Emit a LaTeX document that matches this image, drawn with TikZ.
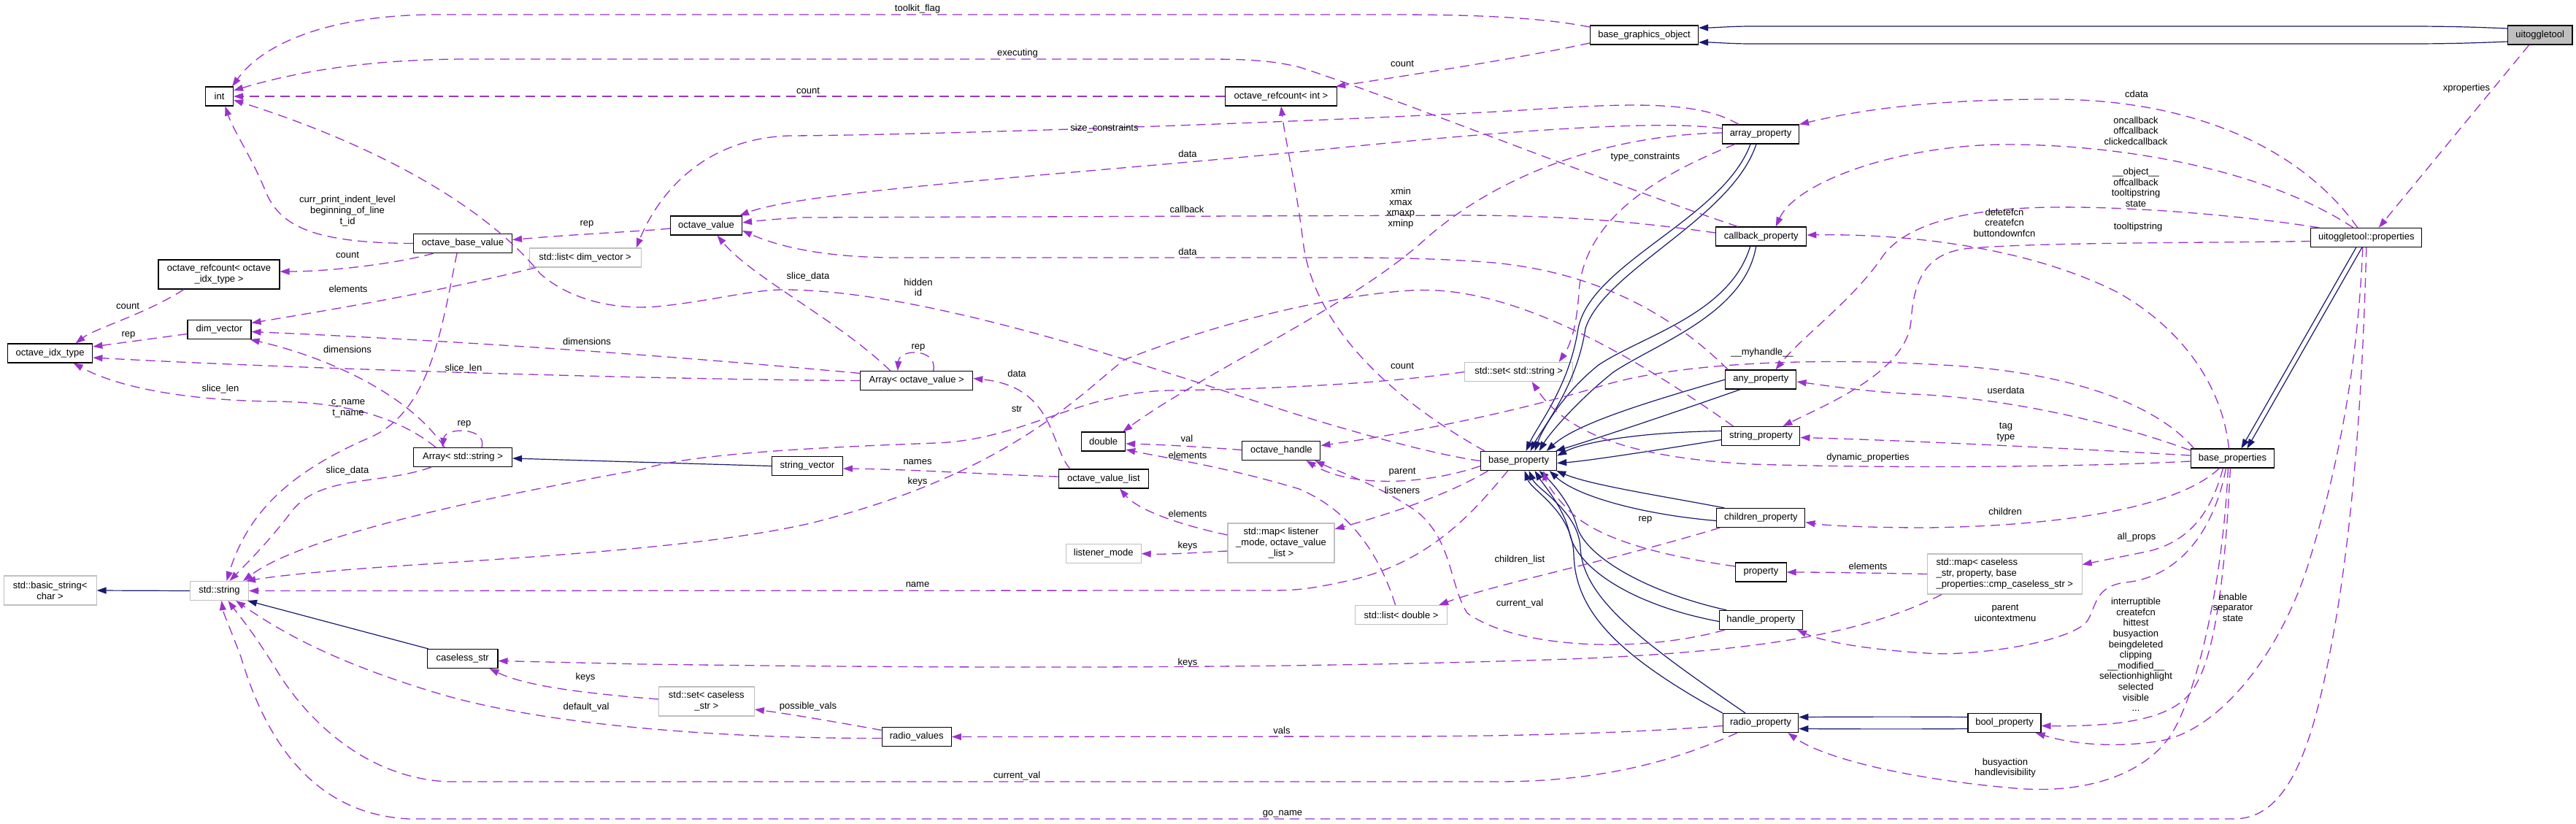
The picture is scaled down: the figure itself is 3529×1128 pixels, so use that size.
\documentclass[tikz,border=0pt]{standalone}
\usepackage{fontspec}
\setmainfont{Liberation Sans}
\usetikzlibrary{arrows.meta}
\definecolor{depc}{HTML}{9A32CD}
\definecolor{inhc}{HTML}{191970}
\definecolor{grayb}{HTML}{BFBFBF}
\newcommand{\dxf}{\fontsize{13pt}{15pt}\selectfont}
\newcommand{\dxl}{\fontsize{13pt}{14.6pt}\selectfont}
\tikzset{
  box/.style={draw=black, line width=1.1pt, rectangle, minimum height=26pt, inner xsep=2pt, inner ysep=1pt, font=\dxf, align=center},
  gbox/.style={box, draw=grayb},
  lbl/.style={font=\dxl, inner sep=0pt, align=center},
  dep/.style={depc, line width=1.3pt, dash pattern=on 13pt off 8pt, -{Triangle[length=13pt,width=9pt]}},
  inh/.style={inhc, line width=1.2pt, -{Triangle[length=13pt,width=9pt]}},
}
\begin{document}
\begin{tikzpicture}[x=1pt,y=-1pt]
\fill[white] (0,0) rectangle (3529,1128);
\useasboundingbox (0,0) rectangle (3529,1128);

% ---------- nodes ----------
\node[box, minimum width=38pt] (int) at (300.5,132) {int};
\node[box, minimum width=135pt] (obv) at (634,333.5) {octave\_base\_value};
\node[box, minimum width=166pt, minimum height=40pt] (rcidx) at (300,376) {octave\_refcount< octave\\\_idx\_type >};
\node[box, minimum width=153pt] (rcint) at (1755,132) {octave\_refcount< int >};
\node[box, minimum width=98pt] (ov) at (967.5,309) {octave\_value};
\node[box, minimum width=148pt] (bgo) at (2252.5,48) {base\_graphics\_object};
\node[box, minimum width=105pt] (arrp) at (2412,184) {array\_property};
\node[box, minimum width=124pt] (cbp) at (2412.7,324) {callback\_property};
\node[box, minimum width=88.5pt, fill=grayb] (utt) at (3479.7,48) {uitoggletool};
\node[box, minimum width=152pt] (uttp) at (3241.8,325.5) {uitoggletool::properties};
\node[box, minimum width=116.5pt] (oit) at (68.6,484) {octave\_idx\_type};
\node[box, minimum width=87pt] (dimv) at (300.5,451.5) {dim\_vector};
\node[box, minimum width=135pt] (arrs) at (634,626.5) {Array< std::string >};
\node[box, minimum width=154pt] (arrov) at (1255.7,521.5) {Array< octave\_value >};
\node[box, minimum width=60pt] (dbl) at (1511.7,605) {double};
\node[box, minimum width=107pt] (oh) at (1755.4,617.5) {octave\_handle};
\node[box, minimum width=97pt] (sv) at (1105.9,638.5) {string\_vector};
\node[box, minimum width=123pt] (ovl) at (1512,656) {octave\_value\_list};
\node[gbox, minimum width=146pt, minimum height=54pt] (mapl) at (1755,744) {std::map< listener\\\_mode, octave\_value\\\_list >};
\node[gbox, minimum width=103pt] (lm) at (1511.7,758.5) {listener\_mode};
\node[gbox, minimum width=153pt] (ldv) at (801.6,353) {std::list< dim\_vector >};
\node[gbox, minimum width=147.6pt] (sets) at (2080.6,509.5) {std::set< std::string >};
\node[box, minimum width=97pt] (anyp) at (2412.4,520) {any\_property};
\node[box, minimum width=107pt] (strp) at (2412.4,597.5) {string\_property};
\node[box, minimum width=104pt] (bp) at (2080.6,631.5) {base\_property};
\node[box, minimum width=121pt] (chp) at (2412.4,709.5) {children\_property};
\node[box, minimum width=114.6pt] (bps) at (3058.4,628) {base\_properties};
\node[gbox, minimum width=127pt, minimum height=40pt] (bstr) at (68.6,809) {std::basic\_string<\\char >};
\node[gbox, minimum width=80pt] (str) at (300.5,809.5) {std::string};
\node[box, minimum width=96.5pt] (cls) at (633.7,902.5) {caseless\_str};
\node[gbox, minimum width=131pt, minimum height=40pt] (setc) at (967.8,961) {std::set< caseless\\\_str >};
\node[box, minimum width=95pt] (rv) at (1255.7,1009.5) {radio\_values};
\node[gbox, minimum width=126pt] (ld) at (1919.6,842.5) {std::list< double >};
\node[box, minimum width=69.5pt] (prop) at (2412.4,784) {property};
\node[box, minimum width=114pt] (hp) at (2412.4,849.5) {handle\_property};
\node[box, minimum width=103.4pt] (rp) at (2412,990.5) {radio\_property};
\node[box, minimum width=100pt] (boolp) at (2746,990.5) {bool\_property};
\node[gbox, minimum width=211.5pt, minimum height=55pt, align=left] (mapc) at (2746.3,786.5) {std::map< caseless\\\_str, property, base\\\_properties::cmp\_caseless\_str >};

% ---------- inheritance ----------
\draw[inh] ([yshift=9pt]utt.west) .. controls (3390,37) and (3350,36) .. (3300,36) -- (2400,36) .. controls (2370,36) and (2350,38) .. ([yshift=10pt]bgo.east);
\draw[inh] ([yshift=-9pt]utt.west) .. controls (3390,59) and (3350,60) .. (3300,60) -- (2400,60) .. controls (2370,60) and (2350,58) .. ([yshift=-10pt]bgo.east);
\draw[inh] ([xshift=-14pt]uttp.south) -- ([xshift=12pt]bps.north);
\draw[inh] ([xshift=-6pt]uttp.south) -- ([xshift=20pt]bps.north);

\draw[inh] ([xshift=-14pt]arrp.south) .. controls (2360,300) and (2180,360) .. (2162,450) .. controls (2150,530) and (2105,585) .. ([xshift=10pt]bp.north);
\draw[inh] ([xshift=-6pt]arrp.south) .. controls (2372,300) and (2198,370) .. (2172,450) .. controls (2160,530) and (2112,588) .. ([xshift=16pt]bp.north);
\draw[inh] ([xshift=-15pt]cbp.south) .. controls (2370,430) and (2250,460) .. (2190,500) .. controls (2140,540) and (2112,590) .. ([xshift=22pt]bp.north);
\draw[inh] ([xshift=-7pt]cbp.south) .. controls (2390,430) and (2270,470) .. (2210,510) .. controls (2160,550) and (2122,595) .. ([xshift=28pt]bp.north);
\draw[inh] (anyp.west) .. controls (2260,550) and (2160,580) .. ([xshift=38pt]bp.north);
\draw[inh] ([xshift=-28pt]anyp.south) .. controls (2280,570) and (2190,600) .. ([xshift=-2pt]bp.north east);
\draw[inh] ([yshift=7pt]strp.west) .. controls (2250,592) and (2170,605) .. ([yshift=7pt]bp.east);
\draw[inh] ([yshift=-5pt]strp.west) .. controls (2250,620) and (2170,632) .. ([yshift=-3pt]bp.east);
\draw[inh] ([xshift=-50pt]chp.north) .. controls (2280,680) and (2180,665) .. ([xshift=-1pt]bp.south east);
\draw[inh] ([yshift=-4pt]chp.west) .. controls (2250,705) and (2160,680) .. ([xshift=42pt]bp.south);
\draw[inh] ([xshift=-47pt]hp.north) .. controls (2250,810) and (2170,760) .. (2160,720) .. controls (2152,690) and (2125,660) .. ([xshift=28pt]bp.south);
\draw[inh] ([yshift=-2pt]hp.west) .. controls (2240,830) and (2160,780) .. (2150,730) .. controls (2142,695) and (2115,665) .. ([xshift=22pt]bp.south);
\draw[inh] ([xshift=-21pt]rp.north) .. controls (2250,880) and (2168,820) .. (2165,750) .. controls (2162,700) and (2105,670) .. ([xshift=14pt]bp.south);
\draw[inh] (rp.north west) .. controls (2220,900) and (2158,840) .. (2156,760) .. controls (2154,700) and (2098,672) .. ([xshift=8pt]bp.south);
\draw[inh] ([yshift=8pt]boolp.west) .. controls (2640,982) and (2560,982) .. ([yshift=8pt]rp.east);
\draw[inh] ([yshift=-8pt]boolp.west) .. controls (2640,999) and (2560,999) .. ([yshift=-8pt]rp.east);
\draw[inh] (sv.west) -- ([yshift=-1.5pt]arrs.east);
\draw[inh] ([xshift=2pt]cls.north west) -- ([xshift=-2pt]str.south east);
\draw[inh] (str.west) -- (bstr.east);

% ---------- usage ----------
\draw[dep] ([yshift=11pt]bgo.west) .. controls (2100,22) and (2000,20) .. (1900,20) -- (600,20) .. controls (450,20) and (360,60) .. ([xshift=-2pt]int.north east);
\draw[dep] ([yshift=-11pt]bgo.west) .. controls (2080,80) and (1950,100) .. ([xshift=-2pt]rcint.north east);
\draw[dep] ([xshift=-32pt]cbp.north) .. controls (2200,250) and (1900,130) .. (1780,92) .. controls (1740,82) and (1700,81) .. (1650,81) -- (640,81) .. controls (500,81) and (400,100) .. ([yshift=8pt]int.east);
\draw[dep] (rcint.west) -- (int.east);
\draw[dep] (obv.west) .. controls (430,333) and (385,310) .. (365,265) .. controls (345,215) and (320,180) .. ([xshift=8pt]int.south);
\draw[dep] (bp.west) .. controls (1980,625) and (1900,605) .. (1800,575) .. controls (1650,530) and (1300,400) .. (1080,397) .. controls (1030,396) and (980,412) .. (900,420) .. controls (840,425) and (780,410) .. (740,375) .. controls (680,300) and (550,210) .. ([yshift=-5pt]int.east);
\draw[dep] ([xshift=6pt]bp.north west) .. controls (1930,560) and (1800,460) .. (1785,330) .. controls (1775,250) and (1762,200) .. (rcint.south);
\draw[dep] ([xshift=-30pt]arrp.north) .. controls (2330,140) and (2250,140) .. (2100,150) .. controls (1900,163) and (1300,185) .. (1081,186) .. controls (960,190) and (900,270) .. ([xshift=-7pt]ldv.north east);
\draw[dep] ([yshift=8pt]arrp.west) .. controls (2280,165) and (2100,175) .. (1780,208) .. controls (1450,240) and (1100,262) .. ([xshift=-4pt]ov.north east);
\draw[dep] ([yshift=2pt]arrp.west) .. controls (2200,185) and (2050,240) .. (1950,330) .. controls (1850,420) and (1650,510) .. ([xshift=-4pt]dbl.north east);
\draw[dep] ([xshift=-35pt]arrp.south) .. controls (2270,240) and (2170,300) .. (2163,400) .. controls (2160,450) and (2150,475) .. ([xshift=55pt]sets.north);
\draw[dep] ([yshift=5pt]cbp.west) .. controls (2250,305) and (2150,295) .. (2000,295) -- (1100,298) .. controls (1060,300) and (1035,303) .. ([yshift=4pt]ov.east);
\draw[dep] ([xshift=4pt]anyp.north west) .. controls (2300,440) and (2200,375) .. (2047,360) .. controls (1950,352) and (1850,353) .. (1780,353) -- (1230,353) .. controls (1120,353) and (1060,335) .. ([yshift=-7pt]ov.east);
\draw[dep] ([xshift=-40pt]obv.south) .. controls (540,362) and (450,372) .. ([yshift=4pt]rcidx.east);
\draw[dep] ([yshift=-4pt]ov.west) .. controls (880,317) and (800,320) .. ([yshift=5pt]obv.east);
\draw[dep] ([xshift=-8pt]obv.south) .. controls (605,450) and (590,560) .. (510,598) .. controls (400,645) and (340,700) .. ([xshift=10pt]str.north);
\draw[dep] ([xshift=10pt]ldv.south west) .. controls (600,400) and (450,425) .. ([yshift=9pt]dimv.east);
\draw[dep] ([yshift=-6pt]dimv.west) -- ([yshift=9pt]oit.east);
\draw[dep] ([xshift=-48pt]rcidx.south) .. controls (200,430) and (130,450) .. ([xshift=35pt]oit.north);
\draw[dep] ([yshift=10pt]arrov.west) .. controls (1000,495) and (700,470) .. ([yshift=-3pt]dimv.east);
\draw[dep] (arrov.west) .. controls (900,520) and (400,505) .. ([yshift=-6pt]oit.east);
\draw[dep] ([xshift=-25pt]arrs.north) .. controls (560,540) and (450,490) .. ([xshift=-2pt]dimv.south east);
\draw[dep] ([xshift=-37pt]arrs.north) .. controls (550,575) and (480,550) .. (370,550) .. controls (250,548) and (160,530) .. ([xshift=32pt]oit.south);
\draw[dep] ([xshift=-43pt]arrs.south) .. controls (520,665) and (440,650) .. (400,700) .. controls (370,740) and (340,770) .. ([xshift=14pt]str.north);
\draw[dep] ([xshift=26pt]arrs.north) .. controls (668,585) and (610,585) .. ([xshift=-28pt]arrs.north);
\draw[dep] ([xshift=23pt]arrov.north) .. controls (1285,477) and (1232,477) .. ([xshift=-26pt]arrov.north);
\draw[dep] ([xshift=-36pt]arrov.north) .. controls (1150,440) and (1030,380) .. ([xshift=15pt]ov.south);
\draw[dep] ([xshift=-46pt]ovl.north) .. controls (1438,610) and (1445,530) .. ([yshift=3pt]arrov.east);
\draw[dep] ([yshift=3pt]ovl.west) .. controls (1350,650) and (1250,643) .. ([yshift=-3.5pt]sv.east);
\draw[dep] ([xshift=-38pt]strp.north) .. controls (2200,460) and (2050,390) .. (1932,398) .. controls (1850,403) and (1700,430) .. (1540,493) .. controls (1480,540) and (1380,650) .. (1110,717) .. controls (900,765) and (500,770) .. ([xshift=-4pt]str.north east);
\draw[dep] (sets.west) .. controls (1900,525) and (1750,533) .. (1600,535) .. controls (1480,538) and (1400,603) .. (1282,607) .. controls (1150,612) and (950,620) .. (880,643) .. controls (700,675) and (420,730) .. ([xshift=-8pt]str.north east);
\draw[dep] ([xshift=-15pt]bp.south) .. controls (2020,700) and (1960,770) .. (1850,795) .. controls (1800,806) and (1780,809) .. (1740,809) -- (str.east);
\draw[dep] ([yshift=-7pt]bp.west) .. controls (1950,665) and (1850,668) .. ([xshift=34pt]oh.south);
\draw[dep] ([xshift=-42pt]bp.south) .. controls (1980,680) and (1900,705) .. ([yshift=19pt]mapl.east);
\draw[dep] ([yshift=-11pt]mapl.west) .. controls (1640,757) and (1600,760) .. (lm.east);
\draw[dep] ([yshift=11pt]mapl.west) .. controls (1620,720) and (1560,700) .. ([xshift=22pt]ovl.south);
\draw[dep] ([yshift=1pt]oh.west) .. controls (1640,612) and (1590,609) .. ([yshift=-3pt]dbl.east);
\draw[dep] ([xshift=-8pt]ld.north) .. controls (1890,760) and (1850,700) .. (1780,670) .. controls (1680,640) and (1600,628) .. ([yshift=-11pt]dbl.east);
\draw[dep] ([xshift=5pt]chp.south west) .. controls (2200,770) and (2050,800) .. ([xshift=-12pt]ld.north east);
\draw[dep] ([xshift=8pt]hp.south west) .. controls (2250,895) and (2080,890) .. (2010,840) .. controls (1985,800) and (1990,740) .. (1940,700) .. controls (1880,660) and (1830,645) .. ([xshift=-8pt]oh.south east);
\draw[dep] ([yshift=8pt]prop.west) .. controls (2280,762) and (2190,740) .. (2150,700) .. controls (2128,678) and (2118,660) .. ([xshift=34pt]bp.south);
\draw[dep] (mapc.west) .. controls (2560,785) and (2500,784) .. (prop.east);
\draw[dep] ([xshift=20pt]mapc.south west) .. controls (2550,870) and (2400,893) .. (2150,903) .. controls (1800,915) and (1400,917) .. (880,910) -- ([yshift=-3pt]cls.east);
\draw[dep] ([yshift=3pt]setc.west) .. controls (800,950) and (720,940) .. ([xshift=-12pt]cls.south east);
\draw[dep] ([yshift=9pt]rv.west) .. controls (1150,990) and (1080,978) .. ([yshift=-11pt]setc.east);
\draw[dep] ([yshift=-2pt]rv.west) .. controls (1000,1012) and (750,995) .. (600,950) .. controls (450,905) and (380,862) .. ([xshift=-18pt]str.south east);
\draw[dep] ([yshift=-4pt]rp.west) .. controls (2250,1003) and (2100,1009) .. (1900,1009) -- (rv.east);
\draw[dep] ([xshift=-32pt]rp.south) .. controls (2300,1040) and (2200,1071) .. (2050,1071) -- (614,1071) .. controls (500,1066) and (420,985) .. (380,920) .. controls (350,870) and (325,840) .. ([xshift=12pt]str.south);
\draw[dep] (uttp.south) .. controls (3235,600) and (3215,800) .. (3180,950) .. controls (3150,1080) and (3110,1122) .. (3060,1122) -- (560,1122) .. controls (420,1115) and (360,1000) .. (330,900) .. controls (315,860) and (306,840) .. ([xshift=3pt]str.south);
\draw[dep] ([xshift=-5pt]uttp.south) .. controls (3228,550) and (3185,700) .. (3160,780) .. controls (3120,900) and (3040,1000) .. (2960,1015) .. controls (2900,1025) and (2840,1020) .. ([xshift=-8pt]boolp.south east);

% base_properties
\draw[dep] ([xshift=-5pt]bps.north) .. controls (3045,530) and (2990,450) .. (2900,400) .. controls (2780,340) and (2620,320) .. ([yshift=2pt]cbp.east);
\draw[dep] ([xshift=5pt]bps.north west) .. controls (2960,560) and (2850,510) .. (2660,500) .. controls (2500,490) and (2300,495) .. (2190,530) .. controls (2050,572) and (1900,598) .. ([yshift=7pt]oh.east);
\draw[dep] ([yshift=11pt]bps.west) .. controls (2900,580) and (2750,545) .. (2620,540) .. controls (2550,536) and (2500,528) .. ([yshift=-3pt]anyp.east);
\draw[dep] ([yshift=4pt]bps.west) .. controls (2850,615) and (2600,603) .. ([yshift=-2pt]strp.east);
\draw[dep] ([yshift=-4pt]bps.west) .. controls (2850,640) and (2600,642) .. (2400,636) .. controls (2250,628) and (2150,600) .. ([xshift=18pt]sets.south);
\draw[dep] ([xshift=-18pt]bps.south) .. controls (2990,690) and (2850,720) .. (2640,723) .. controls (2560,723) and (2500,720) .. ([yshift=-6pt]chp.east);
\draw[dep] ([xshift=-13pt]bps.south) .. controls (3030,700) and (3000,745) .. (2935,757) .. controls (2900,764) and (2870,770) .. ([yshift=13pt]mapc.east);
\draw[dep] ([xshift=-9pt]bps.south) .. controls (3035,720) and (2990,790) .. (2912,798) .. controls (2870,803) and (2872,830) .. (2860,850) .. controls (2840,880) and (2700,900) .. (2640,895) .. controls (2560,890) and (2500,880) .. ([xshift=-8pt]hp.south east);
\draw[dep] ([xshift=-3pt]bps.south) .. controls (3050,750) and (3040,880) .. (3010,935) .. controls (2990,975) and (2940,996) .. ([yshift=-4pt]boolp.east);
\draw[dep] ([xshift=-6pt]bps.south) .. controls (3045,800) and (3010,950) .. (2974,1007) .. controls (2935,1065) and (2850,1088) .. (2760,1080) .. controls (2620,1068) and (2500,1040) .. ([xshift=-15pt]rp.south east);

% uitoggletool::properties
\draw[dep] ([xshift=-15pt]utt.south) -- ([xshift=17pt]uttp.north);
\draw[dep] ([xshift=-12pt]uttp.north) .. controls (3150,200) and (3000,136) .. (2810,136) .. controls (2650,136) and (2550,150) .. (arrp.north east);
\draw[dep] ([xshift=-18pt]uttp.north) .. controls (3100,230) and (2900,198) .. (2750,198) .. controls (2600,198) and (2460,250) .. ([xshift=20pt]cbp.north);
\draw[dep] ([xshift=12pt]uttp.north west) .. controls (3050,292) and (2880,280) .. (2776,285) .. controls (2680,290) and (2610,310) .. (2580,350) .. controls (2540,410) and (2470,460) .. ([xshift=20pt]anyp.north);
\draw[dep] ([yshift=-5pt]uttp.west) .. controls (3000,333) and (2800,332) .. (2700,340) .. controls (2640,345) and (2622,380) .. (2618,440) .. controls (2612,510) and (2500,555) .. ([xshift=30pt]strp.north);

% ---------- labels ----------
\node[lbl] (l1) at (1257,12) {toolkit\_flag};
\node[lbl] (l2) at (1394,73) {executing};
\node[lbl] (l3) at (1107,124) {count};
\node[lbl] (l4) at (1921,87) {count};
\node[lbl] (l5) at (476,289) {curr\_print\_indent\_level\\beginning\_of\_line\\t\_id};
\node[lbl] (l6) at (476,349) {count};
\node[lbl] (l7) at (804,307) {rep};
\node[lbl] (l8) at (1513,176) {size\_constraints};
\node[lbl] (l9) at (1627,211) {data};
\node[lbl] (l10) at (2254,215) {type\_constraints};
\node[lbl] (l11) at (1919,285) {xmin\\xmax\\xmaxp\\xminp};
\node[lbl] (l12) at (1626,287) {callback};
\node[lbl] (l13) at (1627,345) {data};
\node[lbl] (l14) at (1107,379) {slice\_data};
\node[lbl] (l15) at (1258,394) {hidden\\id};
\node[lbl] (l16) at (2927,129) {cdata};
\node[lbl] (l17) at (2926,179) {oncallback\\offcallback\\clickedcallback};
\node[lbl] (l18) at (2926,257) {\_\_object\_\_\\offcallback\\tooltipstring\\state};
\node[lbl] (l19) at (2746,305) {deletefcn\\createfcn\\buttondownfcn};
\node[lbl] (l20) at (2929,311) {tooltipstring};
\node[lbl] (l21) at (3379,121) {xproperties};
\node[lbl] (l22) at (477,396) {elements};
\node[lbl] (l23) at (175,419) {count};
\node[lbl] (l24) at (176,459) {rep};
\node[lbl] (l25) at (804,468) {dimensions};
\node[lbl] (l26) at (476,479) {dimensions};
\node[lbl] (l27) at (635,505) {slice\_len};
\node[lbl] (l28) at (302,533) {slice\_len};
\node[lbl] (l29) at (477,560) {c\_name\\t\_name};
\node[lbl] (l30) at (636,581) {rep};
\node[lbl] (l31) at (476,645) {slice\_data};
\node[lbl] (l32) at (1258,476) {rep};
\node[lbl] (l33) at (1393,512) {data};
\node[lbl] (l34) at (1393,560) {str};
\node[lbl] (l35) at (1626,601) {val};
\node[lbl] (l36) at (1627,624) {elements};
\node[lbl] (l37) at (1257,633) {names};
\node[lbl] (l38) at (1257,660) {keys};
\node[lbl] (l39) at (1627,704) {elements};
\node[lbl] (l40) at (1627,748) {keys};
\node[lbl] (l41) at (1921,501) {count};
\node[lbl] (l42) at (2414,483) {\_\_myhandle\_\_};
\node[lbl] (l43) at (2559,627) {dynamic\_properties};
\node[lbl] (l44) at (1921,647) {parent};
\node[lbl] (l45) at (1921,672) {listeners};
\node[lbl] (l46) at (2254,712) {rep};
\node[lbl] (l47) at (2748,535) {userdata};
\node[lbl] (l48) at (2748,592) {tag\\type};
\node[lbl] (l49) at (2747,701) {children};
\node[lbl] (l50) at (2927,736) {all\_props};
\node[lbl] (l51) at (802,928) {keys};
\node[lbl] (l52) at (803,969) {default\_val};
\node[lbl] (l53) at (1257,801) {name};
\node[lbl] (l54) at (1627,908) {keys};
\node[lbl] (l55) at (1107,968) {possible\_vals};
\node[lbl] (l56) at (1756,1001) {vals};
\node[lbl] (l57) at (1393,1063) {current\_val};
\node[lbl] (l58) at (1757,1115) {go\_name};
\node[lbl] (l59) at (2082,767) {children\_list};
\node[lbl] (l60) at (2082,827) {current\_val};
\node[lbl] (l61) at (2559,776) {elements};
\node[lbl] (l62) at (2747,840) {parent\\uicontextmenu};
\node[lbl] (l63) at (2926,897) {interruptible\\createfcn\\hittest\\busyaction\\beingdeleted\\clipping\\\_\_modified\_\_\\selectionhighlight\\selected\\visible\\...};
\node[lbl] (l64) at (3059,832) {enable\\separator\\state};
\node[lbl] (l65) at (2747,1052) {busyaction\\handlevisibility};
\end{tikzpicture}
\end{document}
